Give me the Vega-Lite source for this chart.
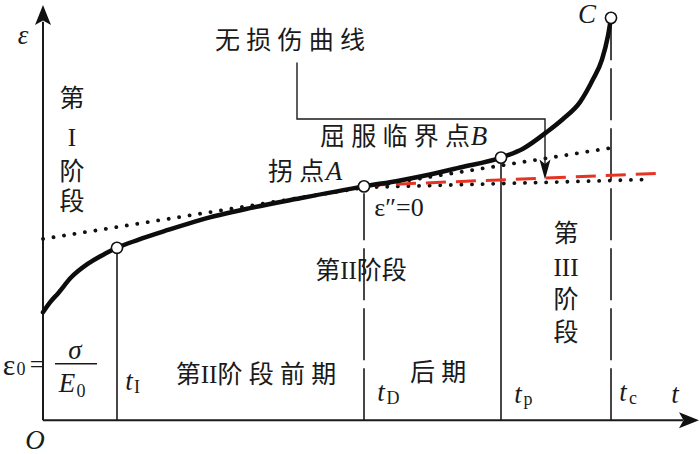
{
  "$schema": "https://vega.github.io/schema/vega-lite/v6.json",
  "width": 700,
  "height": 454,
  "autosize": {"type": "fit", "contains": "padding"},
  "padding": 0,
  "background": "white",
  "config": {"view": {"stroke": null}},
  "datasets": {
    "curve": [
      {"t": 0, "e": 109, "i": 0}, {"t": 7, "e": 119, "i": 1}, {"t": 15, "e": 128, "i": 2},
      {"t": 28, "e": 144, "i": 3}, {"t": 45, "e": 158, "i": 4}, {"t": 62, "e": 168, "i": 5},
      {"t": 74, "e": 174, "i": 6}, {"t": 95, "e": 182, "i": 7},
      {"t": 125, "e": 192, "i": 9}, {"t": 157, "e": 202, "i": 10}, {"t": 207, "e": 214, "i": 11},
      {"t": 257, "e": 224, "i": 12}, {"t": 321, "e": 236, "i": 13}, {"t": 357, "e": 242, "i": 14},
      {"t": 387, "e": 248, "i": 15}, {"t": 417, "e": 255, "i": 16}, {"t": 458, "e": 265, "i": 17},
      {"t": 480, "e": 274, "i": 18}, {"t": 504, "e": 291, "i": 19}, {"t": 520, "e": 304, "i": 20},
      {"t": 537, "e": 321, "i": 21}, {"t": 550, "e": 344, "i": 22}, {"t": 559, "e": 364, "i": 23},
      {"t": 565, "e": 388, "i": 24}, {"t": 568, "e": 406, "i": 25}
    ],
    "knots": [
      {"t": 74, "e": 174}, {"t": 321, "e": 236}, {"t": 458, "e": 265}, {"t": 568, "e": 406}
    ],
    "axes": [
      {"t": 0, "e": 0, "t2": 0, "e2": 402},
      {"t": 0, "e": 0, "t2": 640, "e2": 0}
    ],
    "solidv": [
      {"t": 74, "e": 0, "t2": 74, "e2": 174},
      {"t": 458, "e": 0, "t2": 458, "e2": 265}
    ],
    "dashv": [
      {"t": 321, "e": 0, "t2": 321, "e2": 229},
      {"t": 568, "e": 0, "t2": 568, "e2": 406}
    ],
    "dotted": [
      {"t": 0, "e": 183, "t2": 569, "e2": 275},
      {"t": 323, "e": 235, "t2": 607, "e2": 243}
    ],
    "red": [
      {"t": 323, "e": 237, "t2": 613, "e2": 249}
    ],
    "fracbar": [
      {"t": 12, "e": 57, "t2": 54, "e2": 57}
    ],
    "callout": [
      {"t": 254, "e": 361, "i": 0}, {"t": 254, "e": 304, "i": 1},
      {"t": 502, "e": 304, "i": 2}, {"t": 502, "e": 258, "i": 3}
    ],
    "arrowUp": [{"t": 0, "e": 409}],
    "arrowRight": [{"t": 646, "e": 0}],
    "arrowDown": [{"t": 502, "e": 253}],
    "cjk": [
      {"t": 247, "e": 383, "label": "无 损 伤 曲 线"},
      {"t": 352, "e": 286, "label": "屈 服 临 界 点"},
      {"t": 253, "e": 250, "label": "拐 点"},
      {"t": 318, "e": 151, "label": "第II阶段"},
      {"t": 213, "e": 46, "label": "第II阶 段 前 期"},
      {"t": 395, "e": 48, "label": "后 期"},
      {"t": 29, "e": 324, "label": "第"},
      {"t": 29, "e": 285, "label": "I"},
      {"t": 29, "e": 250, "label": "阶"},
      {"t": 29, "e": 220, "label": "段"},
      {"t": 523, "e": 188, "label": "第"},
      {"t": 523, "e": 154, "label": "III"},
      {"t": 523, "e": 121, "label": "阶"},
      {"t": 523, "e": 88, "label": "段"}
    ],
    "italic": [
      {"t": -20, "e": 388, "label": "ε"},
      {"t": 544, "e": 409, "label": "C"},
      {"t": 436, "e": 286, "label": "B"},
      {"t": 291, "e": 250, "label": "A"},
      {"t": -8, "e": -21, "label": "O"},
      {"t": 32, "e": 70, "label": "σ"},
      {"t": 24, "e": 37, "label": "E"},
      {"t": 86, "e": 39, "label": "t"},
      {"t": 338, "e": 28, "label": "t"},
      {"t": 475, "e": 26, "label": "t"},
      {"t": 580, "e": 28, "label": "t"},
      {"t": 632, "e": 26, "label": "t"}
    ],
    "upright": [
      {"t": -6, "e": 56, "label": "="},
      {"t": 356, "e": 214, "label": "ε″=0"}
    ],
    "bigeps": [
      {"t": -34, "e": 55, "label": "ε"}
    ],
    "sub": [
      {"t": -22, "e": 51, "label": "0"},
      {"t": 38, "e": 29, "label": "0"},
      {"t": 94, "e": 33, "label": "I"},
      {"t": 350, "e": 21, "label": "D"},
      {"t": 485, "e": 20, "label": "p"},
      {"t": 590, "e": 21, "label": "c"}
    ]
  },
  "encoding": {
    "x": {"field": "t", "type": "quantitative", "axis": null, "scale": {"domain": [-43, 657], "nice": false, "zero": false}},
    "y": {"field": "e", "type": "quantitative", "axis": null, "scale": {"domain": [-33, 421], "nice": false, "zero": false}}
  },
  "layer": [
    {
      "data": {"name": "axes"},
      "mark": {"type": "rule", "color": "#1a1a1a", "strokeWidth": 2},
      "encoding": {"x2": {"field": "t2"}, "y2": {"field": "e2"}}
    },
    {
      "data": {"name": "solidv"},
      "mark": {"type": "rule", "color": "#1a1a1a", "strokeWidth": 1.6},
      "encoding": {"x2": {"field": "t2"}, "y2": {"field": "e2"}}
    },
    {
      "data": {"name": "dashv"},
      "mark": {"type": "rule", "color": "#1a1a1a", "strokeWidth": 1.6, "strokeDash": [52, 8]},
      "encoding": {"x2": {"field": "t2"}, "y2": {"field": "e2"}}
    },
    {
      "data": {"name": "fracbar"},
      "mark": {"type": "rule", "color": "#1a1a1a", "strokeWidth": 1.5},
      "encoding": {"x2": {"field": "t2"}, "y2": {"field": "e2"}}
    },
    {
      "data": {"name": "dotted"},
      "mark": {"type": "rule", "color": "#111111", "strokeWidth": 3.8, "strokeCap": "round", "strokeDash": [0.1, 10.5]},
      "encoding": {"x2": {"field": "t2"}, "y2": {"field": "e2"}}
    },
    {
      "data": {"name": "red"},
      "mark": {"type": "rule", "color": "#e53424", "strokeWidth": 3, "strokeDash": [20, 10]},
      "encoding": {"x2": {"field": "t2"}, "y2": {"field": "e2"}}
    },
    {
      "data": {"name": "callout"},
      "mark": {"type": "line", "color": "#1a1a1a", "strokeWidth": 1.4},
      "encoding": {"order": {"field": "i", "type": "quantitative"}}
    },
    {
      "data": {"name": "curve"},
      "mark": {"type": "line", "color": "#0d0d0d", "strokeWidth": 4.5, "interpolate": "monotone", "strokeCap": "round"},
      "encoding": {"order": {"field": "i", "type": "quantitative"}}
    },
    {
      "data": {"name": "knots"},
      "mark": {"type": "point", "shape": "circle", "filled": true, "fill": "white", "stroke": "#111111", "strokeWidth": 1.6, "size": 125, "opacity": 1}
    },
    {
      "data": {"name": "arrowUp"},
      "mark": {"type": "point", "shape": "M0,-1 L0.8,1 L0,0.55 L-0.8,1 Z", "filled": true, "color": "#111111", "size": 400, "opacity": 1}
    },
    {
      "data": {"name": "arrowRight"},
      "mark": {"type": "point", "shape": "M1,0 L-1,0.8 L-0.55,0 L-1,-0.8 Z", "filled": true, "color": "#111111", "size": 400, "opacity": 1}
    },
    {
      "data": {"name": "arrowDown"},
      "mark": {"type": "point", "shape": "M0,1 L-0.55,-1 L0,-0.55 L0.55,-1 Z", "filled": true, "color": "#111111", "size": 400, "opacity": 1}
    },
    {
      "data": {"name": "cjk"},
      "mark": {"type": "text", "font": "Liberation Serif, Noto Sans CJK SC", "fontSize": 25, "color": "#1a1a1a", "align": "center", "baseline": "middle"},
      "encoding": {"text": {"field": "label"}}
    },
    {
      "data": {"name": "italic"},
      "mark": {"type": "text", "font": "Liberation Serif", "fontStyle": "italic", "fontSize": 27, "color": "#1a1a1a", "align": "center", "baseline": "middle"},
      "encoding": {"text": {"field": "label"}}
    },
    {
      "data": {"name": "upright"},
      "mark": {"type": "text", "font": "Liberation Serif", "fontSize": 26, "color": "#1a1a1a", "align": "center", "baseline": "middle"},
      "encoding": {"text": {"field": "label"}}
    },
    {
      "data": {"name": "bigeps"},
      "mark": {"type": "text", "font": "Liberation Serif", "fontSize": 30, "color": "#1a1a1a", "align": "center", "baseline": "middle"},
      "encoding": {"text": {"field": "label"}}
    },
    {
      "data": {"name": "sub"},
      "mark": {"type": "text", "font": "Liberation Serif", "fontSize": 18, "color": "#1a1a1a", "align": "center", "baseline": "middle"},
      "encoding": {"text": {"field": "label"}}
    }
  ]
}
